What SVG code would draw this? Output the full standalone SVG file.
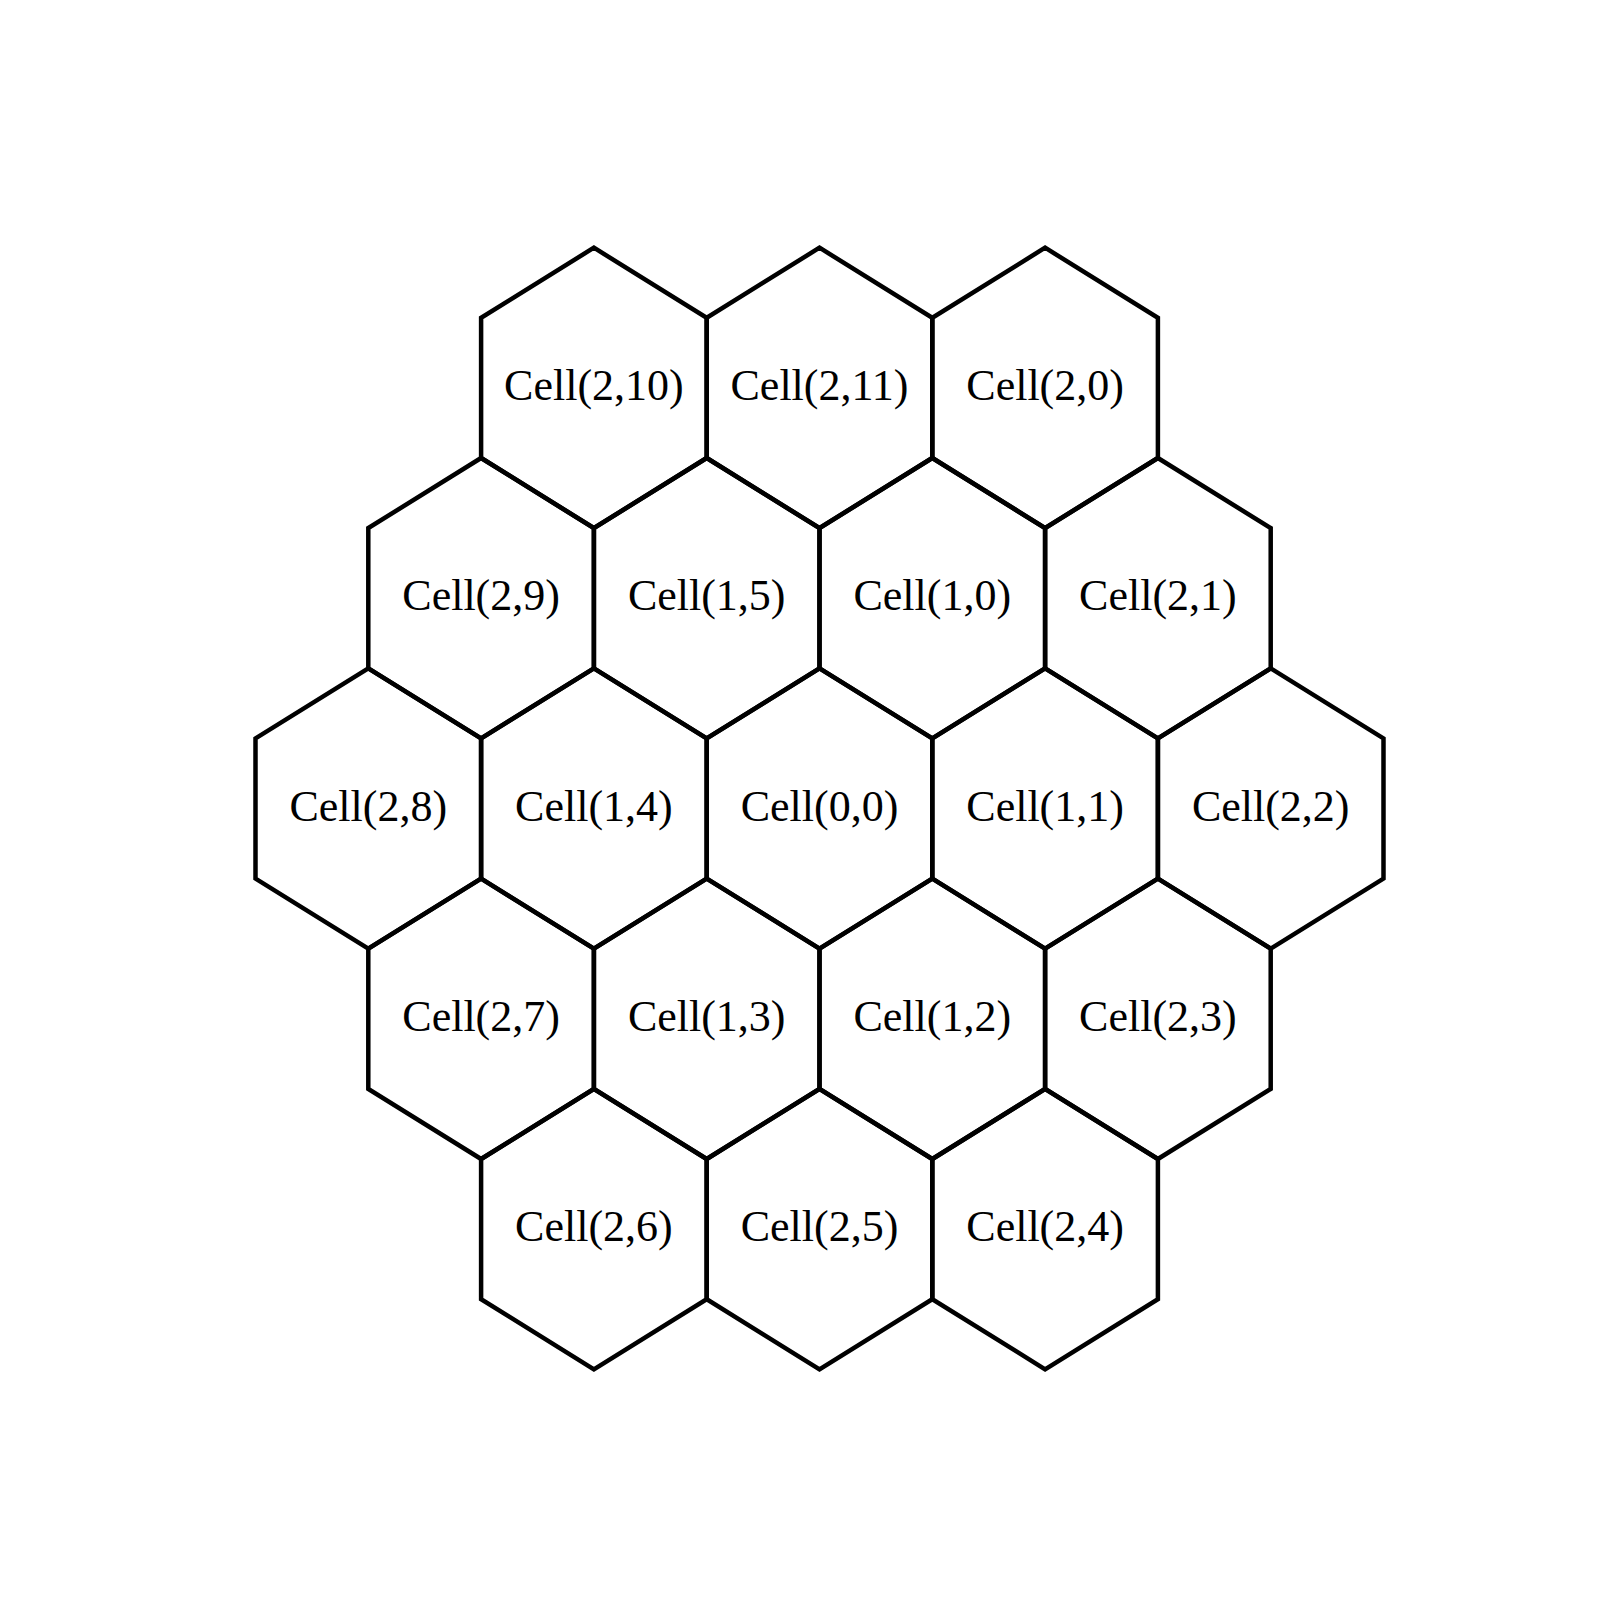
<svg xmlns="http://www.w3.org/2000/svg" xmlns:xlink="http://www.w3.org/1999/xlink" width="1600" height="1600" viewBox="0 0 1600 1600">
<style>
.hex{fill:none;stroke:#000;stroke-width:4.5;stroke-linejoin:miter}
.lbl{font-family:"Liberation Serif","Times New Roman",serif;font-size:44px;fill:#000;text-anchor:middle}
</style>
<defs>
<polygon id="hex" class="hex" points="0,-140.2 112.8,-70.1 112.8,70.1 0,140.2 -112.8,70.1 -112.8,-70.1"/>
</defs>
<rect width="1600" height="1600" fill="#fff"/>
<g id="cell-2-10" transform="translate(593.9,387.9)"><use xlink:href="#hex"/><text class="lbl" y="12">Cell(2,10)</text></g>
<g id="cell-2-11" transform="translate(819.5,387.9)"><use xlink:href="#hex"/><text class="lbl" y="12">Cell(2,11)</text></g>
<g id="cell-2-0" transform="translate(1045.1,387.9)"><use xlink:href="#hex"/><text class="lbl" y="12">Cell(2,0)</text></g>
<g id="cell-2-9" transform="translate(481.1,598.2)"><use xlink:href="#hex"/><text class="lbl" y="12">Cell(2,9)</text></g>
<g id="cell-1-5" transform="translate(706.7,598.2)"><use xlink:href="#hex"/><text class="lbl" y="12">Cell(1,5)</text></g>
<g id="cell-1-0" transform="translate(932.3,598.2)"><use xlink:href="#hex"/><text class="lbl" y="12">Cell(1,0)</text></g>
<g id="cell-2-1" transform="translate(1157.9,598.2)"><use xlink:href="#hex"/><text class="lbl" y="12">Cell(2,1)</text></g>
<g id="cell-2-8" transform="translate(368.3,808.5)"><use xlink:href="#hex"/><text class="lbl" y="12">Cell(2,8)</text></g>
<g id="cell-1-4" transform="translate(593.9,808.5)"><use xlink:href="#hex"/><text class="lbl" y="12">Cell(1,4)</text></g>
<g id="cell-0-0" transform="translate(819.5,808.5)"><use xlink:href="#hex"/><text class="lbl" y="12">Cell(0,0)</text></g>
<g id="cell-1-1" transform="translate(1045.1,808.5)"><use xlink:href="#hex"/><text class="lbl" y="12">Cell(1,1)</text></g>
<g id="cell-2-2" transform="translate(1270.7,808.5)"><use xlink:href="#hex"/><text class="lbl" y="12">Cell(2,2)</text></g>
<g id="cell-2-7" transform="translate(481.1,1018.8)"><use xlink:href="#hex"/><text class="lbl" y="12">Cell(2,7)</text></g>
<g id="cell-1-3" transform="translate(706.7,1018.8)"><use xlink:href="#hex"/><text class="lbl" y="12">Cell(1,3)</text></g>
<g id="cell-1-2" transform="translate(932.3,1018.8)"><use xlink:href="#hex"/><text class="lbl" y="12">Cell(1,2)</text></g>
<g id="cell-2-3" transform="translate(1157.9,1018.8)"><use xlink:href="#hex"/><text class="lbl" y="12">Cell(2,3)</text></g>
<g id="cell-2-6" transform="translate(593.9,1229.1)"><use xlink:href="#hex"/><text class="lbl" y="12">Cell(2,6)</text></g>
<g id="cell-2-5" transform="translate(819.5,1229.1)"><use xlink:href="#hex"/><text class="lbl" y="12">Cell(2,5)</text></g>
<g id="cell-2-4" transform="translate(1045.1,1229.1)"><use xlink:href="#hex"/><text class="lbl" y="12">Cell(2,4)</text></g>
<g id="connectors"></g>
</svg>
